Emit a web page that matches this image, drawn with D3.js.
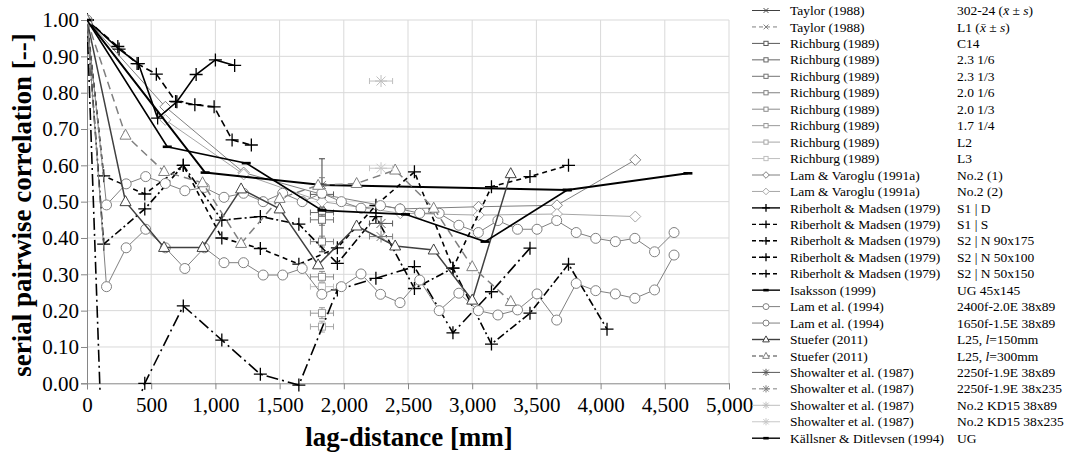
<!DOCTYPE html>
<html><head><meta charset="utf-8">
<script src="https://cdn.jsdelivr.net/npm/d3@7"></script>
<style>
body{margin:0;background:#fff}
svg{display:block}
text{font-family:"Liberation Serif","Times New Roman",serif;fill:#000}
</style>
</head><body>
<svg id="c" width="1072" height="454"></svg>
<script>
// ---------- data ----------
const xTicks = [0,500,1000,1500,2000,2500,3000,3500,4000,4500,5000];
const yTicks = [0,0.1,0.2,0.3,0.4,0.5,0.6,0.7,0.8,0.9,1.0];

const taylorX = [1830];
const taylor302Y = [0.49];
const taylor302Err = [0.128];
const taylorL1Y = [0.546];
const taylorL1Err = [0.02];

const richburgX = [1830];
const richburgY = [0.52,0.47,0.45,0.39,0.293,0.193,0.156,0.266];
const richburgLabels = ["C14","2.3 1/6","2.3 1/3","2.0 1/6","2.0 1/3","1.7 1/4","L2","L3"];

const lamVX = [0,610,1220,1830,2440,3050,3660,4270];
const lamV1Y = [1,0.761,0.58,0.52,0.48,0.486,0.49,0.615];
const lamV2Y = [1,0.725,0.575,0.50,0.468,0.463,0.466,0.459];

const s1dX = [0,250,400,550,700,850,1000,1150];
const s1dY = [1,0.92,0.88,0.73,0.775,0.85,0.89,0.875];
const s1sX = [0,240,390,540,690,840,990,1130,1280];
const s1sY = [1,0.927,0.88,0.851,0.776,0.767,0.761,0.67,0.656];
const s2X = [0,130,450,750,1050,1350,1650,1950,2250,2550,2850,3150,3450,3750,4050];
const s2aY = [1,0.571,0.521,0.6,0.40,0.371,0.328,0.373,0.49,0.582,0.317,0.541,0.569,0.6];
const s2bY = [1,0.383,0.48,0.6,0.449,0.459,0.438,0.33,0.459,0.261,0.317,0.108,0.193,0.328,0.149];
const s2cY = [1,-0.31,0.0,0.213,0.119,0.025,-0.005,0.257,0.289,0.321,0.139,0.252,0.372];

const isakssonX = [0,920,1830,3740,4680];
const isakssonY = [1,0.58,0.546,0.532,0.578];

const lamX = [0,152,305,457,610,762,914,1067,1219,1372,1524,1676,1829,1981,2134,2286,2438,2591,2743,2896,3048,3200,3353,3505,3658,3810,3962,4115,4267,4420,4572];
const lam2400Y = [1,0.491,0.549,0.569,0.55,0.53,0.539,0.512,0.523,0.5,0.523,0.5,0.523,0.5,0.482,0.489,0.48,0.468,0.468,0.435,0.415,0.448,0.424,0.424,0.448,0.415,0.399,0.39,0.399,0.362,0.415];
const lam1650Y = [1,0.266,0.373,0.424,0.373,0.316,0.373,0.332,0.332,0.298,0.298,0.316,0.245,0.266,0.301,0.245,0.222,0.284,0.2,0.248,0.2,0.188,0.202,0.246,0.174,0.275,0.255,0.246,0.234,0.257,0.353];

const stueferX = [0,300,600,900,1200,1500,1800,2100,2400,2700,3000,3300];
const stuefer150Y = [1,0.5,0.374,0.374,0.535,0.48,0.326,0.433,0.378,0.367,0.229,0.577];
const stuefer300Y = [1,0.683,0.583,0.552,0.385,0.509,0.545,0.55,0.587,0.482,0.321,0.225];

const showalterX = [2290];
const showalterY = [0.44,0.404,0.832,0.592];

const kallsnerX = [0,625,1240,1830,2480,3100,3740];
const kallsnerY = [1,0.651,0.606,0.476,0.465,0.39,0.532];

// ---------- series table ----------
const it = s => ({it:s});
const series = [
 {a:"Taylor (1988)", b:["302-24 (",it("x̄")," ± ",it("s"),")"], x:taylorX, y:taylor302Y, yerr:taylor302Err, c:"#404040", w:1, d:null, m:"x", line:false},
 {a:"Taylor (1988)", b:["L1 (",it("x̄")," ± ",it("s"),")"], x:taylorX, y:taylorL1Y, yerr:taylorL1Err, c:"#7f7f7f", w:1, d:"4,3", m:"x", line:false},
];
const richColors = ["#595959","#666666","#737373","#808080","#8c8c8c","#999999","#a6a6a6","#bfbfbf"];
richburgY.forEach((v,i)=>series.push({a:"Richburg (1989)", b:[richburgLabels[i]], x:richburgX, y:[v], yerr:[0.015], xerr:90, c:richColors[i], w:1, d:null, m:"square", line:false}));
series.push(
 {a:"Lam & Varoglu (1991a)", b:["No.2 (1)"], x:lamVX, y:lamV1Y, c:"#808080", w:1, d:null, m:"diamond", line:true},
 {a:"Lam & Varoglu (1991a)", b:["No.2 (2)"], x:lamVX, y:lamV2Y, c:"#a6a6a6", w:1, d:null, m:"diamond", line:true},
 {a:"Riberholt & Madsen (1979)", b:["S1 | D"], x:s1dX, y:s1dY, c:"#000", w:1.6, d:null, m:"plus", line:true},
 {a:"Riberholt & Madsen (1979)", b:["S1 | S"], x:s1sX, y:s1sY, c:"#000", w:1.6, d:"7,4", m:"plus", line:true},
 {a:"Riberholt & Madsen (1979)", b:["S2 | N 90x175"], x:s2X.slice(0,s2aY.length), y:s2aY, c:"#000", w:1.6, d:"5,4", m:"plus", line:true},
 {a:"Riberholt & Madsen (1979)", b:["S2 | N 50x100"], x:s2X.slice(0,s2bY.length), y:s2bY, c:"#000", w:1.6, d:"8,3,2,3", m:"plus", line:true},
 {a:"Riberholt & Madsen (1979)", b:["S2 | N 50x150"], x:s2X.slice(0,s2cY.length), y:s2cY, c:"#000", w:1.6, d:"12,4,2,4", m:"plus", line:true},
 {a:"Isaksson (1999)", b:["UG 45x145"], x:isakssonX, y:isakssonY, c:"#000", w:2, d:null, m:"dash", line:true},
 {a:"Lam et al. (1994)", b:["2400f-2.0E 38x89"], x:lamX, y:lam2400Y, c:"#808080", w:1, d:null, m:"circle", line:true},
 {a:"Lam et al. (1994)", b:["1650f-1.5E 38x89"], x:lamX, y:lam1650Y, c:"#808080", w:1, d:null, m:"circle", line:true},
 {a:"Stuefer (2011)", b:["L25, ",it("l"),"=150mm"], x:stueferX, y:stuefer150Y, c:"#404040", w:1.5, d:null, m:"triangle", line:true},
 {a:"Stuefer (2011)", b:["L25, ",it("l"),"=300mm"], x:stueferX, y:stuefer300Y, c:"#7f7f7f", w:1.5, d:"8,5", m:"triangle", line:true},
 {a:"Showalter et al. (1987)", b:["2250f-1.9E 38x89"], x:showalterX, y:[showalterY[0]], xerr:90, c:"#595959", w:1, d:null, m:"asterisk", line:false},
 {a:"Showalter et al. (1987)", b:["2250f-1.9E 38x235"], x:showalterX, y:[showalterY[1]], xerr:90, c:"#7f7f7f", w:1, d:"4,3", m:"asterisk", line:false},
 {a:"Showalter et al. (1987)", b:["No.2 KD15 38x89"], x:showalterX, y:[showalterY[2]], xerr:90, c:"#bfbfbf", w:1, d:null, m:"asterisk", line:false},
 {a:"Showalter et al. (1987)", b:["No.2 KD15 38x235"], x:showalterX, y:[showalterY[3]], xerr:90, c:"#c8c8c8", w:1, d:null, m:"asterisk", line:false},
 {a:"Källsner & Ditlevsen (1994)", b:["UG"], x:kallsnerX, y:kallsnerY, c:"#000", w:1.6, d:null, m:"dash", line:true}
);

// ---------- chart ----------
const svg = d3.select("#c");
const X = d3.scaleLinear().domain([0,5000]).range([87,729]);
const Y = d3.scaleLinear().domain([0,1]).range([383.3,20]);

// grid
const grid = svg.append("g");
grid.selectAll(".gx").data(xTicks.slice(1)).join("line")
 .attr("x1",d=>X(d)).attr("x2",d=>X(d)).attr("y1",Y(0)).attr("y2",Y(1))
 .attr("stroke","#d9d9d9").attr("stroke-width",1);
grid.selectAll(".gy").data(yTicks.slice(1)).join("line")
 .attr("x1",X(0)).attr("x2",X(5000)).attr("y1",d=>Y(d)).attr("y2",d=>Y(d))
 .attr("stroke","#d9d9d9").attr("stroke-width",1);

// axes
const xAxis = d3.axisBottom(X).tickValues(xTicks).tickFormat(d3.format(",")).tickSize(6).tickPadding(8);
const yAxis = d3.axisLeft(Y).tickValues(yTicks).tickFormat(d3.format(".2f")).tickSize(6).tickPadding(2);
const gx = svg.append("g").attr("transform",`translate(0,${Y(0)})`).call(xAxis);
const gy = svg.append("g").attr("transform",`translate(${X(0)},0)`).call(yAxis);
[gx,gy].forEach(g=>{
  g.select(".domain").attr("stroke","#868686");
  g.selectAll(".tick line").attr("stroke","#868686");
  g.selectAll(".tick text").attr("font-family",'"Liberation Serif","Times New Roman",serif').attr("font-size",21).attr("fill","#000");
});

svg.append("text").attr("transform","translate(31,205) rotate(-90)").attr("text-anchor","middle")
 .attr("font-size",27).attr("font-weight","bold").text("serial pairwise correlation [--]");
svg.append("text").attr("x",409).attr("y",446).attr("text-anchor","middle")
 .attr("font-size",27).attr("font-weight","bold").text("lag-distance [mm]");

svg.append("defs").append("clipPath").attr("id","clip").append("rect")
 .attr("x",X(0)).attr("y",10).attr("width",X(5000)-X(0)+10).attr("height",Y(0)-10+9);

function marker(g, type, cx, cy, col, k){
  k = k || 1;
  switch(type){
    case "plus": g.append("path").attr("d",`M${cx-6.5*k},${cy}H${cx+6.5*k}M${cx},${cy-6.5*k}V${cy+6.5*k}`).attr("stroke",col).attr("stroke-width",1.3).attr("fill","none"); break;
    case "x": g.append("path").attr("d",`M${cx-4*k},${cy-4*k}L${cx+4*k},${cy+4*k}M${cx-4*k},${cy+4*k}L${cx+4*k},${cy-4*k}`).attr("stroke",col).attr("stroke-width",1).attr("fill","none"); break;
    case "asterisk": g.append("path").attr("d",`M${cx-6*k},${cy}H${cx+6*k}M${cx},${cy-6*k}V${cy+6*k}M${cx-4.5*k},${cy-4.5*k}L${cx+4.5*k},${cy+4.5*k}M${cx-4.5*k},${cy+4.5*k}L${cx+4.5*k},${cy-4.5*k}`).attr("stroke",col).attr("stroke-width",1).attr("fill","none"); break;
    case "square": g.append("rect").attr("x",cx-3.5*k).attr("y",cy-3.5*k).attr("width",7*k).attr("height",7*k).attr("fill","#fff").attr("stroke",col).attr("stroke-width",1); break;
    case "diamond": g.append("path").attr("d",`M${cx},${cy-5.5*k}L${cx+5.5*k},${cy}L${cx},${cy+5.5*k}L${cx-5.5*k},${cy}Z`).attr("fill","#fff").attr("stroke",col).attr("stroke-width",1); break;
    case "circle": g.append("circle").attr("cx",cx).attr("cy",cy).attr("r",5*k).attr("fill","#fff").attr("stroke",col).attr("stroke-width",1); break;
    case "triangle": g.append("path").attr("d",`M${cx},${cy-6*k}L${cx+5.5*k},${cy+4*k}L${cx-5.5*k},${cy+4*k}Z`).attr("fill","#fff").attr("stroke",col).attr("stroke-width",1); break;
    case "dash": g.append("rect").attr("x",cx-4.5*k).attr("y",cy-1.3).attr("width",9*k).attr("height",2.6).attr("fill",col); break;
  }
}

const plot = svg.append("g").attr("clip-path","url(#clip)");
const lineGen = d3.line().x(d=>X(d[0])).y(d=>Y(d[1]));
series.forEach(s=>{
  const g = plot.append("g");
  const pts = s.y.map((v,i)=>[s.x[i],v]);
  if(s.line){
    g.append("path").datum(pts).attr("d",lineGen).attr("fill","none")
     .attr("stroke",s.c).attr("stroke-width",s.w).attr("stroke-dasharray",s.d);
  }
  pts.forEach((p,i)=>{
    const px = X(p[0]), py = Y(p[1]);
    if(s.yerr){
      const e = s.yerr[i];
      g.append("path").attr("d",`M${px},${Y(p[1]-e)}V${Y(p[1]+e)}M${px-3},${Y(p[1]-e)}H${px+3}M${px-3},${Y(p[1]+e)}H${px+3}`)
       .attr("stroke",s.c).attr("stroke-width",1).attr("fill","none");
    }
    if(s.xerr){
      g.append("path").attr("d",`M${X(p[0]-s.xerr)},${py}H${X(p[0]+s.xerr)}M${X(p[0]-s.xerr)},${py-3}V${py+3}M${X(p[0]+s.xerr)},${py-3}V${py+3}`)
       .attr("stroke",s.c).attr("stroke-width",1).attr("fill","none");
    }
    if(p[1] >= -0.01) marker(g, s.m, px, py, s.c);
  });
});

// ---------- legend ----------
const leg = svg.append("g");
series.forEach((s,i)=>{
  const yy = 10.5 + i*16.45;
  const g = leg.append("g");
  g.append("line").attr("x1",752).attr("x2",780).attr("y1",yy).attr("y2",yy)
   .attr("stroke",s.c).attr("stroke-width",Math.min(s.w,1.4)).attr("stroke-dasharray",s.d ? "4,3" : null);
  marker(g, s.m, 766, yy, s.c, 0.6);
  g.append("text").attr("x",790).attr("y",yy+4.6).attr("font-size",13.5).text(s.a);
  const t = g.append("text").attr("x",957).attr("y",yy+4.6).attr("font-size",13.5);
  s.b.forEach(part=>{
    if(typeof part === "string") t.append("tspan").text(part);
    else t.append("tspan").attr("font-style","italic").text(part.it);
  });
});
</script>
</body></html>
